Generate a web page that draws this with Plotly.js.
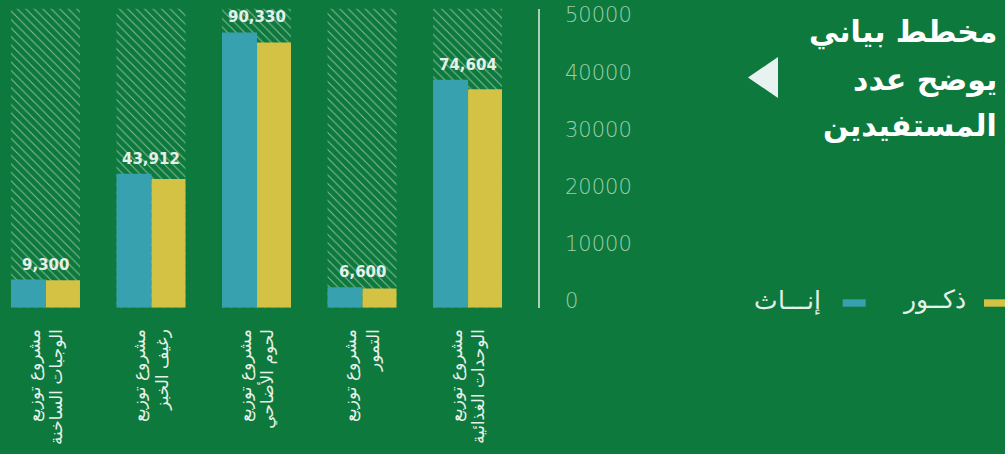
<!DOCTYPE html>
<html>
<head>
<meta charset="utf-8">
<script src="https://cdn.plot.ly/plotly-3.0.1.min.js"></script>
<style>
  html, body { margin: 0; padding: 0; background: #0e793c; }
  #chart { width: 1005px; height: 454px; }
</style>
</head>
<body>
<div id="chart"></div>
<script>
// ---- data ----
const categories = [
  "مشروع توزيع<br>الوجبات الساخنة",
  "مشروع توزيع<br>رغيف الخبز",
  "مشروع توزيع<br>لحوم الأضاحي",
  "مشروع توزيع<br>التمور",
  "مشروع توزيع<br>الوحدات الغذائية"
];
const femaleValues = [4700, 22400, 46000, 3400, 38100];   // إناث
const maleValues   = [4600, 21512, 44330, 3200, 36504];   // ذكور
const axisMax = 50000;
const yTickValues = [0, 10000, 20000, 30000, 40000, 50000];
const femaleName = "إنـــاث";
const maleName = "ذكــور";
const titleLines = ["مخطط بياني", "يوضح عدد", "المستفيدين"];

// ---- styling ----
const BG = "#0e793c";
const TEAL = "#37a1b0";
const YELLOW = "#d3c243";
const LIGHT = "#e6f0ea";

const totals = femaleValues.map((v, i) => v + maleValues[i]);
const bgValues = categories.map(() => axisMax);

const traces = [
  {
    type: "bar", x: categories, y: bgValues,
    width: 0.654, offset: -0.327,
    marker: {
      color: "rgba(0,0,0,0)",
      line: { width: 0 },
      pattern: { shape: "\\", fgcolor: "rgba(255,255,255,0.5)", bgcolor: "rgba(0,0,0,0)",
                 size: 6, solidity: 0.16, fillmode: "replace" }
    },
    hoverinfo: "skip", showlegend: false
  },
  {
    type: "bar", name: femaleName, x: categories, y: femaleValues,
    width: 0.332, offset: -0.327,
    marker: { color: TEAL, line: { width: 0 } }, showlegend: false
  },
  {
    type: "bar", name: maleName, x: categories, y: maleValues,
    width: 0.322, offset: 0.005,
    marker: { color: YELLOW, line: { width: 0 } }, showlegend: false
  },
  // invisible trace so the label axis (y2) is drawn
  {
    type: "scatter", mode: "markers", x: [categories[0]], y: [0], yaxis: "y2",
    marker: { opacity: 0, size: 1 }, hoverinfo: "skip", showlegend: false
  }
];

const W = 1005, H = 454;
const px = p => p / W;
const py = p => 1 - p / H;

const annotations = categories.map((c, i) => ({
  x: c, y: Math.max(femaleValues[i], maleValues[i]), xref: "x", yref: "y",
  text: totals[i].toLocaleString("en-US"),
  showarrow: false, yanchor: "bottom", xanchor: "center", yshift: 4,
  font: { family: "DejaVu Sans", size: 15, color: LIGHT, weight: 600 }
}));

const titleY = [32, 79, 126];
titleLines.forEach((t, i) => annotations.push({
  xref: "paper", yref: "paper", x: px(999), y: py(titleY[i]),
  xanchor: "right", yanchor: "middle", text: t, showarrow: false,
  font: { family: "DejaVu Sans", size: 30, color: "#ffffff", weight: 700 }
}));

annotations.push({
  xref: "paper", yref: "paper", x: px(968), y: py(300), xanchor: "right", yanchor: "middle",
  text: maleName, showarrow: false,
  font: { family: "DejaVu Sans", size: 25, color: LIGHT, weight: 300 }
});
annotations.push({
  xref: "paper", yref: "paper", x: px(823), y: py(300), xanchor: "right", yanchor: "middle",
  text: femaleName, showarrow: false,
  font: { family: "DejaVu Sans", size: 25, color: LIGHT, weight: 300 }
});

const shapes = [
  { type: "rect", xref: "paper", yref: "paper", x0: px(984), x1: px(1006), y0: py(306.7), y1: py(299.3),
    fillcolor: YELLOW, line: { width: 0 } },
  { type: "rect", xref: "paper", yref: "paper", x0: px(842.7), x1: px(865.7), y0: py(306.7), y1: py(299.3),
    fillcolor: TEAL, line: { width: 0 } },
  { type: "path", xref: "paper", yref: "paper",
    path: `M ${px(748)} ${py(77.5)} L ${px(778)} ${py(57)} L ${px(778)} ${py(98)} Z`,
    fillcolor: "#e8f3f1", line: { width: 0 } }
];

const layout = {
  width: W, height: H,
  paper_bgcolor: BG, plot_bgcolor: BG,
  margin: { l: 0, r: 0, t: 0, b: 0, pad: 0 },
  barmode: "overlay",
  showlegend: false,
  xaxis: {
    type: "category", domain: [0, 538 / W], range: [-0.431, 4.668],
    automargin: false, showgrid: false, zeroline: false, showline: false, ticks: "",
    tickangle: -90, ticklabelstandoff: 17,
    tickfont: { family: "DejaVu Sans", size: 17, color: LIGHT }
  },
  yaxis: {
    domain: [1 - 307.7 / H, 1 - 8.5 / H], range: [0, axisMax], side: "right",
    automargin: false, showgrid: false, zeroline: false, showticklabels: false,
    showline: true, linecolor: "rgba(255,255,255,0.65)", linewidth: 1.5, ticks: ""
  },
  yaxis2: {
    overlaying: "y", anchor: "x", side: "right", range: [-1171, 51136],
    automargin: false, showgrid: false, zeroline: false, showline: false, ticks: "",
    tickmode: "array", tickvals: yTickValues, ticktext: yTickValues.map(String),
    ticklabelstandoff: 26,
    tickfont: { family: "DejaVu Sans", size: 21, color: "#9ccdac", weight: 200 }
  },
  annotations: annotations,
  shapes: shapes
};

Plotly.newPlot("chart", traces, layout, { staticPlot: true, displayModeBar: false });
</script>
</body>
</html>
